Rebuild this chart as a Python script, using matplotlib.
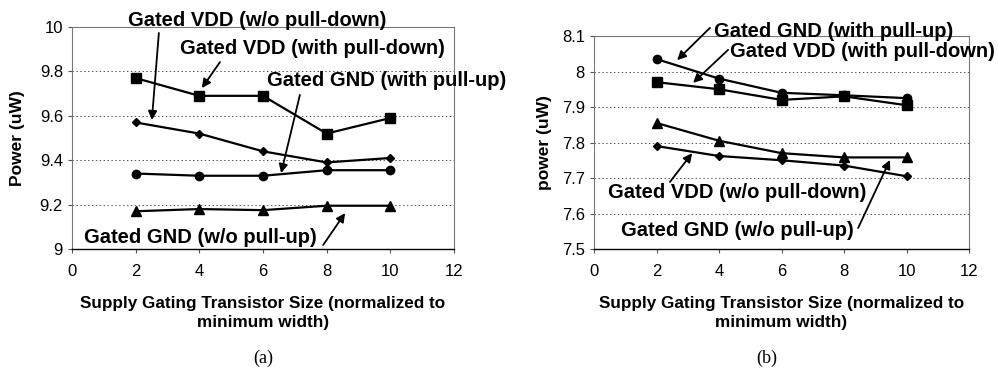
import matplotlib
matplotlib.use("Agg")
import matplotlib.pyplot as plt

plt.rcParams['font.family'] = ['Liberation Sans', 'DejaVu Sans']

SIZES = [2, 4, 6, 8, 10]

# panel (a)
A_VDD_PD = [9.77, 9.69, 9.69, 9.52, 9.59]
A_VDD_NOPD = [9.57, 9.52, 9.44, 9.39, 9.41]
A_GND_PU = [9.34, 9.33, 9.33, 9.355, 9.355]
A_GND_NOPU = [9.17, 9.18, 9.175, 9.195, 9.195]

# panel (b)
B_GND_PU = [8.035, 7.98, 7.94, 7.933, 7.925]
B_VDD_PD = [7.97, 7.95, 7.92, 7.93, 7.905]
B_GND_NOPU = [7.855, 7.805, 7.77, 7.758, 7.758]
B_VDD_NOPD = [7.79, 7.762, 7.75, 7.735, 7.705]

XLABEL = "Supply Gating Transistor Size (normalized to\nminimum width)"

fig = plt.figure(figsize=(9.98, 3.70), dpi=100)
axA = fig.add_axes([0.0721, 0.327, 0.3828, 0.600])
axB = fig.add_axes([0.5952, 0.327, 0.3758, 0.5757])


def style(ax, ylim, yticks, ylabel, ylab_x):
    ax.set_xlim(0, 12)
    ax.set_xticks(range(0, 13, 2))
    ax.set_ylim(*ylim)
    ax.set_yticks(yticks)
    ax.grid(axis='y', color='#555555', linestyle=(0, (1.5, 2.5)), linewidth=0.7)
    ax.set_axisbelow(True)
    for s in ['top', 'right', 'left']:
        ax.spines[s].set_color('#777777')
        ax.spines[s].set_linewidth(0.8)
    ax.spines['bottom'].set_color('black')
    ax.spines['bottom'].set_linewidth(1.0)
    ax.tick_params(axis='both', labelsize=12, length=3, width=0.8, color='#555555')
    ax.tick_params(axis='x', pad=8)
    ax.set_xlabel(XLABEL, fontsize=12.3, fontweight='bold', labelpad=12,
                  linespacing=1.3)
    ax.set_ylabel(ylabel, fontsize=12.5, fontweight='bold')
    ax.yaxis.set_label_coords(ylab_x, 0.5)


def series(ax, y, marker, ms):
    ax.plot(SIZES, y, color='black', linewidth=1.6, marker=marker, markersize=ms,
            markerfacecolor='black', markeredgecolor='black', clip_on=False)


def label(ax, text, xy, ha='center'):
    ax.text(xy[0], xy[1], text, fontsize=14.5, fontweight='bold', ha=ha, va='center',
            clip_on=False)


def arrow(ax, tail, head):
    ax.annotate('', xy=head, xytext=tail,
                arrowprops=dict(arrowstyle='-|>', color='black', lw=1.3,
                                mutation_scale=13, shrinkA=0, shrinkB=0),
                annotation_clip=False)


# (a)
style(axA, (9, 10), [9, 9.2, 9.4, 9.6, 9.8, 10], "Power (uW)", -0.123)
axA.set_yticklabels(['9', '9.2', '9.4', '9.6', '9.8', '10'])
series(axA, A_VDD_PD, 's', 6.5)
series(axA, A_VDD_NOPD, 'D', 4)
series(axA, A_GND_PU, 'o', 6)
series(axA, A_GND_NOPU, '^', 6.5)

label(axA, "Gated VDD (w/o pull-down)", (5.81, 10.03))
arrow(axA, (2.73, 9.973), (2.51, 9.581))
label(axA, "Gated VDD (with pull-down)", (7.54, 9.905))
arrow(axA, (4.65, 9.842), (4.08, 9.725))
label(axA, "Gated GND (with pull-up)", (6.13, 9.761), ha='left')
arrow(axA, (7.16, 9.694), (6.57, 9.342))
label(axA, "Gated GND (w/o pull-up)", (4.02, 9.054))
arrow(axA, (7.89, 9.018), (8.58, 9.162))

# (b)
style(axB, (7.5, 8.1), [7.5, 7.6, 7.7, 7.8, 7.9, 8.0, 8.1], "power (uW)", -0.112)
axB.set_yticklabels(['7.5', '7.6', '7.7', '7.8', '7.9', '8', '8.1'])
series(axB, B_GND_PU, 'o', 6)
series(axB, B_VDD_PD, 's', 6.5)
series(axB, B_GND_NOPU, '^', 6.5)
series(axB, B_VDD_NOPD, 'D', 4)

label(axB, "Gated GND (with pull-up)", (7.68, 8.114))
arrow(axB, (3.71, 8.123), (2.66, 8.032))
label(axB, "Gated VDD (with pull-down)", (8.58, 8.055))
arrow(axB, (4.29, 8.061), (3.17, 7.968))
label(axB, "Gated VDD (w/o pull-down)", (4.59, 7.658))
arrow(axB, (2.43, 7.689), (3.14, 7.770))
label(axB, "Gated GND (w/o pull-up)", (4.59, 7.553))
arrow(axB, (8.45, 7.559), (9.47, 7.751))

fig.text(263 / 998, 1 - 358 / 370, "(a)", fontsize=13, family='Liberation Serif',
         ha='center', va='center')
fig.text(767 / 998, 1 - 358 / 370, "(b)", fontsize=13, family='Liberation Serif',
         ha='center', va='center')

fig.savefig("out.png", dpi=100)
